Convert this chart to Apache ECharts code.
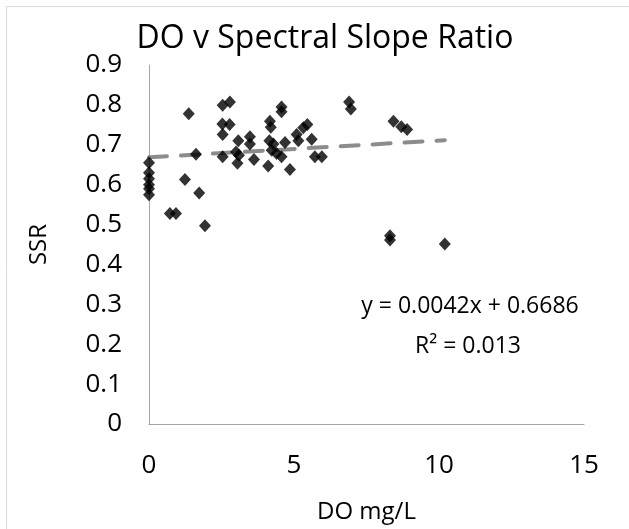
<!DOCTYPE html>
<html>
<head>
<meta charset="utf-8">
<script src="https://cdn.jsdelivr.net/npm/echarts@6/dist/echarts.min.js"></script>
<style>
  html, body { margin: 0; padding: 0; background: #fff; }
  #chart { width: 629px; height: 529px; }
</style>
</head>
<body>
<div id="chart"></div>
<script>
// DO (mg/L) readings and matching spectral slope ratios
const doValues = [
  0, 0, 0, 0, 0, 0,
  0.72, 0.93, 1.24, 1.37, 1.62, 1.73, 1.93,
  2.54, 2.79, 2.53, 2.78, 2.54, 2.54,
  3.08, 3.48, 3.48, 3.0, 3.1, 3.05, 3.62,
  4.11, 4.17, 4.2, 4.15, 4.29, 4.23, 4.4,
  4.57, 4.57, 4.69, 4.57, 4.86,
  5.32, 5.46, 5.09, 5.15, 5.61, 5.72, 5.96,
  6.9, 6.96, 8.43, 8.7, 8.9, 8.31, 8.31, 10.2
];
const ssrValues = [
  0.655, 0.63, 0.615, 0.60, 0.59, 0.575,
  0.528, 0.528, 0.613, 0.778, 0.676, 0.579, 0.497,
  0.799, 0.807, 0.752, 0.751, 0.726, 0.67,
  0.71, 0.72, 0.702, 0.682, 0.674, 0.654, 0.663,
  0.647, 0.759, 0.744, 0.71, 0.702, 0.686, 0.678,
  0.795, 0.783, 0.706, 0.67, 0.638,
  0.743, 0.751, 0.726, 0.71, 0.714, 0.67, 0.67,
  0.807, 0.79, 0.759, 0.745, 0.738, 0.472, 0.461, 0.451
];
// linear trendline ends (x from 0 to the last DO reading)
const trendX = [0, 10.2];
const trendY = [0.6686, 0.7114];
const xTicks = [0, 5, 10, 15];
const yTicks = [0, 0.1, 0.2, 0.3, 0.4, 0.5, 0.6, 0.7, 0.8, 0.9];
const eqLine = 'y = 0.0042x + 0.6686';
const r2Line = 'R² = 0.013';

const font = '"Open Sans", sans-serif';
const chart = echarts.init(document.getElementById('chart'));

chart.setOption({
  backgroundColor: '#fff',
  animation: false,
  title: {
    text: 'DO v Spectral Slope Ratio',
    left: 320, top: 18, textAlign: 'center',
    textStyle: { fontFamily: font, fontSize: 32, fontWeight: 'normal', color: '#000' }
  },
  grid: { left: 149, top: 65, width: 435, height: 371, containLabel: false },
  xAxis: {
    type: 'value', min: xTicks[0], max: xTicks[xTicks.length - 1], interval: 5,
    name: 'DO mg/L', nameLocation: 'middle', nameGap: 76,
    nameTextStyle: { fontFamily: font, fontSize: 24, color: '#000' },
    axisLine: { lineStyle: { color: '#a6a6a6', width: 1 } },
    axisTick: { show: false },
    splitLine: { show: false },
    axisLabel: { fontFamily: font, fontSize: 26, color: '#000', margin: 29 }
  },
  yAxis: {
    type: 'value', min: yTicks[0], max: yTicks[yTicks.length - 1], interval: 0.1,
    name: 'SSR', nameLocation: 'middle', nameGap: 98, nameRotate: 90,
    nameTextStyle: { fontFamily: font, fontSize: 24, color: '#000' },
    axisLine: { show: true, lineStyle: { color: '#a6a6a6', width: 1 } },
    axisTick: { show: false },
    splitLine: { show: false },
    axisLabel: {
      fontFamily: font, fontSize: 26, color: '#000', margin: 27,
      formatter: v => (v === 0 ? '0' : v.toFixed(1))
    }
  },
  series: [
    {
      type: 'line',
      data: trendX.map((x, i) => [x, trendY[i]]),
      symbol: 'none',
      lineStyle: { color: '#8c8c8c', width: 4, type: [18, 14], cap: 'round' },
      z: 1
    },
    {
      type: 'scatter',
      data: doValues.map((x, i) => [x, ssrValues[i]]),
      symbol: 'diamond',
      symbolSize: [12, 13],
      itemStyle: { color: '#000' },
      z: 2
    }
  ],
  graphic: [
    {
      type: 'rect', shape: { x: 6.5, y: 6.5, width: 700, height: 600 },
      style: { fill: 'none', stroke: '#d9d9d9', lineWidth: 1 }, silent: true
    },
    {
      type: 'text', style: {
        text: eqLine, x: 470, y: 306, textAlign: 'center', textVerticalAlign: 'middle',
        font: '23px ' + font, fill: '#000'
      }
    },
    {
      type: 'text', style: {
        text: r2Line, x: 468, y: 346, textAlign: 'center', textVerticalAlign: 'middle',
        font: '23px ' + font, fill: '#000'
      }
    }
  ]
});
</script>
</body>
</html>
